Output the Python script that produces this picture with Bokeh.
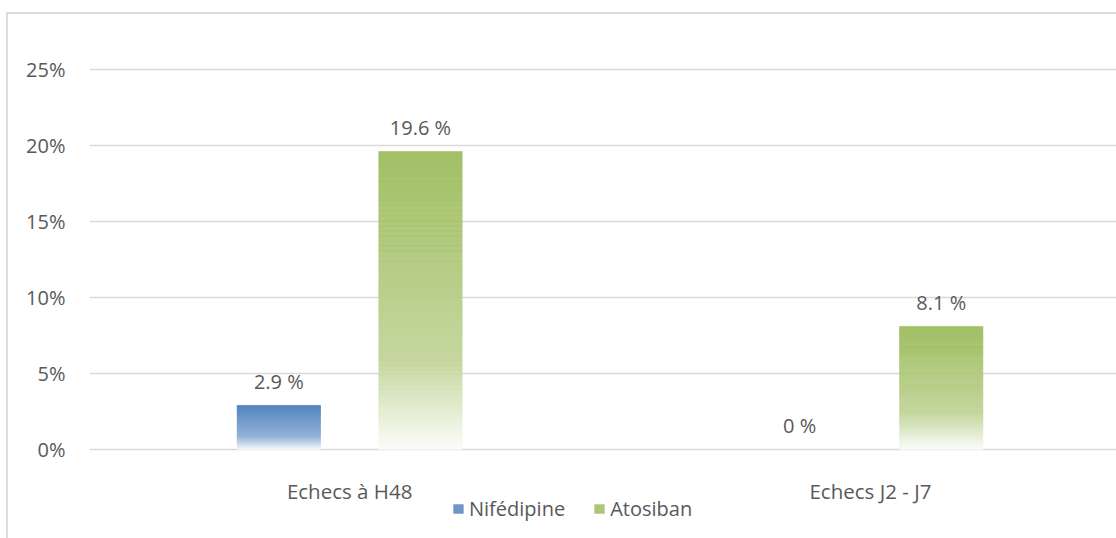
import numpy as np
from bokeh.plotting import figure
from bokeh.models import (Range1d, FixedTicker, PrintfTickFormatter, ColumnDataSource,
                          Legend, LegendItem)
from bokeh.core.properties import value
from bokeh.embed import file_html
from bokeh.resources import INLINE

categories = ["Echecs à H48", "Echecs J2 - J7"]
series = ["Nifédipine", "Atosiban"]
nifedipine = [2.9, 0.0]
atosiban = [19.6, 8.1]
labels_nif = ["2.9 %", "0 %"]
labels_ato = ["19.6 %", "8.1 %"]
y_ticks = [0, 5, 10, 15, 20, 25]
colors = ["#4F81BD", "#9BBB59"]

FONT = "Open Sans"
TXT = "#595959"
GRID = "#d9d9d9"

W, H = 1116, 538
TOP, LEFT = 69, 89
ZERO_PX = 449          # screen row of the 0 % line
PX_PER_PCT = (ZERO_PX - TOP) / 25.0
y_start = -(H - ZERO_PX) / PX_PER_PCT
y_end = 25 + 4 / PX_PER_PCT

p = figure(width=W, height=H, output_backend="svg", toolbar_location=None,
           x_range=Range1d(-0.4995, 1.4725), y_range=Range1d(y_start, y_end),
           min_border_left=LEFT, min_border_right=0, min_border_top=TOP - 4, min_border_bottom=0)
p.outline_line_color = None
p.background_fill_alpha = 0
p.border_fill_alpha = 0
p.styles = {
    "background-color": "white",
    "background-image": "linear-gradient(#dcdcdc, #dcdcdc), linear-gradient(#dcdcdc, #dcdcdc)",
    "background-position": "6px 12px, 6px 12px",
    "background-size": "2px 100%, 100% 2px",
    "background-repeat": "no-repeat, no-repeat",
}
p.xaxis.visible = False

# y axis
p.yaxis.ticker = FixedTicker(ticks=y_ticks)
p.yaxis.formatter = PrintfTickFormatter(format="%d%%")
p.yaxis.axis_line_color = None
p.yaxis.major_tick_line_color = None
p.yaxis.minor_tick_line_color = None
p.yaxis.major_tick_out = 0
p.yaxis.major_tick_in = 0
p.yaxis.major_label_standoff = 24
p.yaxis.major_label_text_font = FONT
p.yaxis.major_label_text_font_size = "20px"
p.yaxis.major_label_text_color = TXT

p.xgrid.grid_line_color = None
p.ygrid.ticker = FixedTicker(ticks=y_ticks)
p.ygrid.grid_line_color = GRID
p.ygrid.grid_line_width = 1.6


def mix(c, t):
    """mix hex colour c with white by fraction t"""
    r, g, b = int(c[1:3], 16), int(c[3:5], 16), int(c[5:7], 16)
    r = r + (255 - r) * t
    g = g + (255 - g) * t
    b = b + (255 - b) * t
    return "#%02x%02x%02x" % (int(r), int(g), int(b))


def grad(c, t):
    # t = 0 at top of bar, 1 at bottom
    if t < 0.7:
        return mix(c, 0.38 * t / 0.7)
    return mix(c, 0.38 + (0.97 - 0.38) * (t - 0.7) / 0.3)


offsets = [-0.136, 0.136]
bar_w = 0.16
N = 60
items = []
for s, vals in enumerate([nifedipine, atosiban]):
    xs, bots, tops, cols = [], [], [], []
    ref_index = None
    for i, v in enumerate(vals):
        if v <= 0:
            continue
        for k in range(N):
            xs.append(i + offsets[s])
            bots.append(v * k / N)
            tops.append(v * (k + 1) / N)
            cols.append(grad(colors[s], 1 - (k + 0.5) / N))
            if ref_index is None and k == int(N * 0.8):
                ref_index = len(xs) - 1
    src = ColumnDataSource(dict(x=xs, bottom=bots, top=tops, color=cols))
    r = p.vbar(x="x", bottom="bottom", top="top", width=bar_w, source=src,
               fill_color="color", line_color="color", line_width=0.6,
               fill_alpha=0.92, line_alpha=0.92)
    items.append(LegendItem(label=series[s], renderers=[r], index=ref_index))

# data labels
lx, ly, lt = [], [], []
for s, (vals, labs) in enumerate([(nifedipine, labels_nif), (atosiban, labels_ato)]):
    for i, (v, l) in enumerate(zip(vals, labs)):
        lx.append(i + offsets[s])
        ly.append(v)
        lt.append(l)
p.text(x=lx, y=ly, text=lt, text_align="center", text_baseline="middle", y_offset=-24,
       text_font=value(FONT), text_font_size="20px", text_color=TXT)

# category labels below the 0 line
p.text(x=list(range(len(categories))), y=[0] * len(categories), text=categories,
       text_align="center", text_baseline="middle", y_offset=41,
       text_font=value(FONT), text_font_size="20.5px", text_color=TXT)

legend = Legend(items=items, orientation="horizontal", location=(363, 16),
                glyph_width=12, glyph_height=11, label_standoff=5, spacing=28,
                padding=0, margin=0, border_line_color=None, background_fill_alpha=0,
                label_text_font=FONT, label_text_font_size="20px", label_text_color=TXT)
p.add_layout(legend, "center")

open("out.html", "w").write(file_html(p, INLINE))
